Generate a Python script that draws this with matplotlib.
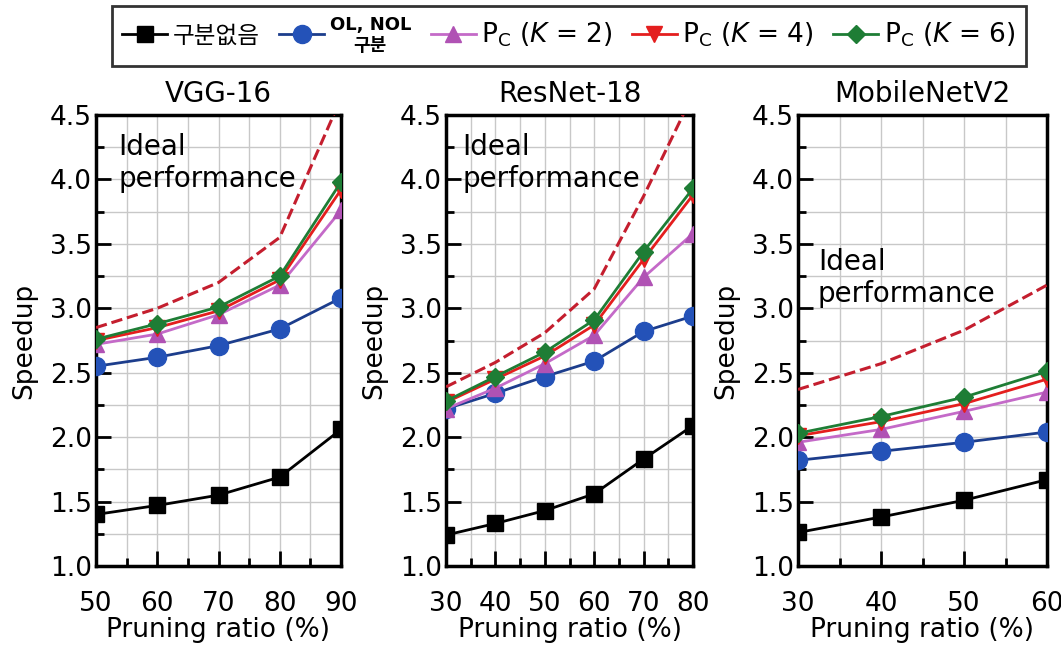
import matplotlib
matplotlib.use('Agg')
import matplotlib.pyplot as plt
from matplotlib.ticker import MultipleLocator
from matplotlib.lines import Line2D

plt.rcParams['font.family'] = ['DejaVu Sans', 'Noto Sans CJK KR']
plt.rcParams['mathtext.fontset'] = 'dejavusans'

# ---- data ----
vgg_x = [50, 60, 70, 80, 90]
vgg_none = [1.40, 1.47, 1.55, 1.69, 2.06]
vgg_olnol = [2.55, 2.62, 2.71, 2.84, 3.08]
vgg_k2 = [2.72, 2.80, 2.95, 3.18, 3.76]
vgg_k4 = [2.75, 2.85, 2.98, 3.22, 3.92]
vgg_k6 = [2.76, 2.88, 3.01, 3.25, 3.98]
vgg_ideal = [2.85, 3.00, 3.20, 3.55, 4.63]

res_x = [30, 40, 50, 60, 70, 80]
res_none = [1.24, 1.33, 1.43, 1.56, 1.83, 2.09]
res_olnol = [2.22, 2.34, 2.47, 2.59, 2.82, 2.94]
res_k2 = [2.22, 2.38, 2.57, 2.79, 3.24, 3.58]
res_k4 = [2.27, 2.45, 2.63, 2.87, 3.38, 3.88]
res_k6 = [2.28, 2.47, 2.66, 2.91, 3.44, 3.93]
res_ideal = [2.39, 2.58, 2.81, 3.15, 3.87, 4.66]

mob_x = [30, 40, 50, 60]
mob_none = [1.26, 1.38, 1.51, 1.67]
mob_olnol = [1.82, 1.89, 1.96, 2.04]
mob_k2 = [1.96, 2.06, 2.20, 2.35]
mob_k4 = [2.01, 2.12, 2.26, 2.45]
mob_k6 = [2.03, 2.16, 2.31, 2.51]
mob_ideal = [2.37, 2.57, 2.83, 3.18]

titles = ['VGG-16', 'ResNet-18', 'MobileNetV2']
labels = ['구분없음', 'OL, NOL\n구분', r'P$_{\rm C}$ ($K$ = 2)',
          r'P$_{\rm C}$ ($K$ = 4)', r'P$_{\rm C}$ ($K$ = 6)']

panels = [
    (vgg_x, [vgg_none, vgg_olnol, vgg_k2, vgg_k4, vgg_k6], vgg_ideal, (50, 90)),
    (res_x, [res_none, res_olnol, res_k2, res_k4, res_k6], res_ideal, (30, 80)),
    (mob_x, [mob_none, mob_olnol, mob_k2, mob_k4, mob_k6], mob_ideal, (30, 60)),
]

# line colour, marker face colour, marker, size
styles = [
    ('#000000', '#000000', 's', 11),
    ('#1c3d8c', '#2452b8', 'o', 13),
    ('#c46ac8', '#b052b4', '^', 12),
    ('#e41e1e', '#e41e1e', 'v', 12),
    ('#1e7d35', '#1e7d35', 'D', 9),
]
ideal_color = '#c41e2e'

fig = plt.figure(figsize=(10.61, 6.52), dpi=100)
lefts = [96 / 1061, 446 / 1061, 798 / 1061]
widths = [245 / 1061, 247 / 1061, 249 / 1061]
bottom = 86 / 652
height = 451 / 652
text_pos = [(0.09, 0.96), (0.065, 0.96), (0.08, 0.705)]

for i, (x, series, ideal, xlim) in enumerate(panels):
    ax = fig.add_axes([lefts[i], bottom, widths[i], height])
    ax.plot(x, ideal, '--', color=ideal_color, lw=2.2, zorder=3)
    for s, (lc, fc, mk, ms) in zip(series, styles):
        ax.plot(x, s, color=lc, lw=2, marker=mk, markersize=ms,
                markerfacecolor=fc, markeredgecolor=fc, zorder=4)
    ax.set_xlim(*xlim)
    ax.set_ylim(1.0, 4.5)
    ax.xaxis.set_major_locator(MultipleLocator(10))
    ax.xaxis.set_minor_locator(MultipleLocator(5))
    ax.yaxis.set_major_locator(MultipleLocator(0.5))
    ax.yaxis.set_minor_locator(MultipleLocator(0.25))
    ax.yaxis.set_major_formatter(lambda v, p: f'{v:.1f}')
    ax.grid(True, which='both', color='#c8c8c8', lw=1, zorder=0)
    ax.tick_params(which='major', direction='in', length=11, width=2, labelsize=19)
    ax.tick_params(which='minor', direction='in', length=6, width=2)
    ax.tick_params(axis='y', pad=3)
    ax.tick_params(axis='x', pad=18)
    for sp in ax.spines.values():
        sp.set_linewidth(2.5)
    ax.set_title(titles[i], fontsize=20, pad=9)
    ax.set_xlabel('Pruning ratio (%)', fontsize=19, labelpad=0)
    ax.set_ylabel('Speedup', fontsize=19, labelpad=9)
    ax.text(text_pos[i][0], text_pos[i][1], 'Ideal\nperformance', transform=ax.transAxes,
            fontsize=20, va='top', ha='left', linespacing=1.2, zorder=5)

handles = [Line2D([], [], color=lc, lw=2, marker=mk, markersize=ms,
                  markerfacecolor=fc, markeredgecolor=fc)
           for (lc, fc, mk, ms) in styles]
leg = fig.legend(handles, labels, loc='upper center', bbox_to_anchor=(0.536, 0.991),
                 ncol=5, fontsize=19, frameon=True, fancybox=False, handlelength=1.7,
                 handletextpad=0.2, columnspacing=0.75, borderpad=0.4, borderaxespad=0)
leg.get_frame().set_edgecolor('black')
leg.get_frame().set_linewidth(2)
texts = leg.get_texts()
texts[0].set_fontsize(17)
texts[1].set_fontsize(13)
texts[1].set_fontweight('bold')
texts[1].set_multialignment('center')

fig.savefig('out.png', dpi=100)
